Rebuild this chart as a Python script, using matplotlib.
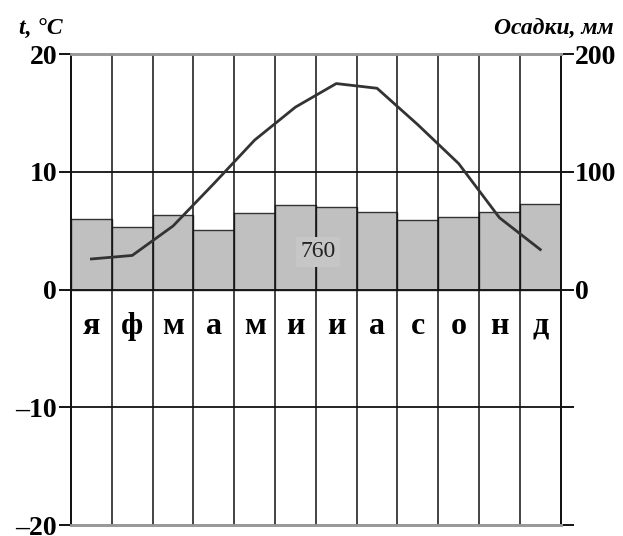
import matplotlib.pyplot as plt
import numpy as np

months = ['я', 'ф', 'м', 'а', 'м', 'и', 'и', 'а', 'с', 'о', 'н', 'д']
temp = [2.6, 2.9, 5.4, 9.0, 12.7, 15.5, 17.5, 17.1, 14.0, 10.7, 6.1, 3.4]
precip = [60, 53, 63, 51, 65, 72, 70, 66, 59, 62, 66, 73]
total = 760

serif = 'Liberation Serif'
x = np.arange(len(months))

fig = plt.figure(figsize=(6.23, 5.36), dpi=100)
ax = fig.add_axes([0.114, 0.0205, 0.786, 0.8785])
ax2 = ax.twinx()
ax.set_zorder(ax2.get_zorder() + 1)
ax.patch.set_visible(False)

# precipitation bars (right axis)
ax2.bar(x, precip, width=1.0, color='#c0c0c0', edgecolor='#333333', linewidth=1.0, zorder=1)
ax2.set_ylim(-200, 200)
ax2.set_yticks([-200, -100, 0, 100, 200])
ax2.set_yticklabels(['', '', '0', '100', '200'])

# temperature (left axis)
ax.set_xlim(-0.5, 11.5)
ax.set_ylim(-20, 20)
ax.set_yticks([-20, -10, 0, 10, 20])
ax.set_yticklabels(['\u201320', '\u201310', '0', '10', '20'])
ax.set_xticks([])
for yv in [-10, 0, 10]:
    ax.axhline(yv, color='#111111', lw=1.3, zorder=2)
for xv in np.arange(0.5, 11, 1):
    ax.axvline(xv, color='#111111', lw=1.1, zorder=2)
ax.plot(x, temp, color='#333333', lw=2, zorder=4)

for xi, m in zip(x, months):
    ax.text(xi, -3.1, m, ha='center', va='center', fontsize=23,
            fontweight='bold', family=serif, zorder=5)

ax.text(5.55, 3.2, str(total), ha='center', va='center', fontsize=17, family=serif,
        color='#222222', zorder=5,
        bbox=dict(facecolor='#c6c6c6', edgecolor='none', pad=3))

for a in (ax, ax2):
    a.spines['top'].set_color('#999999')
    a.spines['bottom'].set_color('#999999')
    a.spines['top'].set_linewidth(2)
    a.spines['bottom'].set_linewidth(2)
    a.spines['left'].set_color('#111111')
    a.spines['right'].set_color('#111111')
    a.spines['left'].set_linewidth(1.3)
    a.spines['right'].set_linewidth(1.3)
    a.tick_params(axis='y', length=9, width=1.3, pad=1, labelsize=20)
    for lab in a.get_yticklabels():
        lab.set_fontfamily(serif)
        lab.set_fontweight('bold')

fig.text(0.03, 0.945, 't, \u00b0C', fontsize=17, fontweight='bold', style='italic',
         family=serif, ha='left', va='center')
fig.text(0.985, 0.945, 'Осадки, мм', fontsize=17, fontweight='bold', style='italic',
         family=serif, ha='right', va='center')

fig.savefig('out.png', dpi=100)
